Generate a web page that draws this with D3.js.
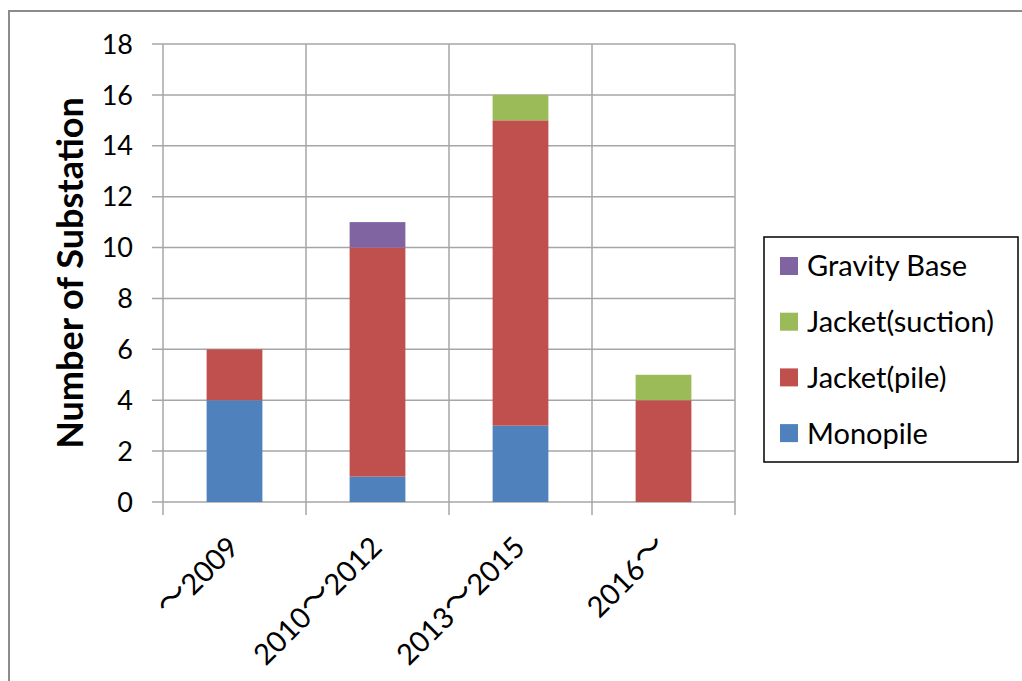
<!DOCTYPE html>
<html><head><meta charset="utf-8">
<script src="https://cdn.jsdelivr.net/npm/d3@7"></script>
<style>body{margin:0;background:#fff}svg{display:block}</style>
</head><body>
<svg id="c" width="1022" height="681"></svg>
<script>
const categories = ["～2009", "2010～2012", "2013～2015", "2016～"];
const seriesNames = ["Monopile", "Jacket(pile)", "Jacket(suction)", "Gravity Base"];
const monopile = [4, 1, 3, 0];
const jacketPile = [2, 9, 12, 4];
const jacketSuction = [0, 0, 1, 1];
const gravityBase = [0, 1, 0, 0];
const yTicks = [0, 2, 4, 6, 8, 10, 12, 14, 16, 18];
const colors = ["#4F81BD", "#C0504D", "#9BBB59", "#8064A2"];

const svg = d3.select("#c");
const font = "Lato, 'Noto Sans CJK JP', sans-serif";
const cjk = "'Noto Sans CJK JP', sans-serif";
const pL = 163, pR = 735, pT = 44, pB = 502;

svg.append("rect").attr("x", 9).attr("y", 11).attr("width", 1030).attr("height", 700)
  .attr("fill", "#fff").attr("stroke", "#8c8c8c").attr("stroke-width", 2);

const x = d3.scaleBand().domain(categories).range([pL, pR]).paddingInner(0.61).paddingOuter(0.305);
const xb = d3.scaleBand().domain(categories).range([pL, pR]);
const y = d3.scaleLinear().domain([0, 18]).range([pB, pT]);

const grid = "#a6a6a6";
svg.append("g").selectAll("line").data(yTicks).join("line")
  .attr("x1", pL - 11).attr("x2", pR).attr("y1", d => y(d)).attr("y2", d => y(d))
  .attr("stroke", grid).attr("stroke-width", 1.5);
const bounds = categories.map(c => xb(c)).concat([pR]);
svg.append("g").selectAll("line").data(bounds).join("line")
  .attr("x1", d => d).attr("x2", d => d).attr("y1", pT).attr("y2", pB + 13)
  .attr("stroke", grid).attr("stroke-width", 1.5);

const table = categories.map((c, i) => ({cat: c, "Monopile": monopile[i], "Jacket(pile)": jacketPile[i], "Jacket(suction)": jacketSuction[i], "Gravity Base": gravityBase[i]}));
const stacked = d3.stack().keys(seriesNames)(table);
svg.append("g").selectAll("g").data(stacked).join("g").attr("fill", (d, i) => colors[i])
  .selectAll("rect").data(d => d).join("rect")
  .attr("x", d => x(d.data.cat)).attr("width", x.bandwidth())
  .attr("y", d => y(d[1])).attr("height", d => y(d[0]) - y(d[1]));

svg.append("g").selectAll("text").data(yTicks).join("text")
  .attr("x", 133).attr("y", d => y(d)).attr("dy", "0.36em").attr("text-anchor", "end")
  .attr("font-family", font).attr("font-size", 27).attr("fill", "#000").text(d => d);

const xl = svg.append("g").selectAll("text").data(categories).join("text")
  .attr("transform", c => `translate(${xb(c) + xb.bandwidth() / 2 - 1},${pB + 40}) rotate(-45)`)
  .attr("text-anchor", "end")
  .attr("font-family", font).attr("font-size", 29).attr("fill", "#000");
xl.each(function(c) {
  const t = d3.select(this);
  let shifted = false;
  c.split(/(～)/).filter(s => s.length).forEach((s, k) => {
    const sp = t.append("tspan").text(s);
    if (s === "～") {
      sp.attr("font-family", cjk).attr("font-size", 32).attr("dy", k === 0 ? 7 : -3);
      shifted = true;
    } else {
      sp.attr("dy", k === 0 ? 10 : 3);
    }
  });
});

svg.append("text").attr("transform", `translate(70,${(pT + pB) / 2}) rotate(-90)`)
  .attr("text-anchor", "middle").attr("dy", "0.35em")
  .attr("font-family", font).attr("font-weight", "bold").attr("font-size", 36).attr("fill", "#000")
  .text("Number of Substation");

const lg = svg.append("g");
lg.append("rect").attr("x", 764).attr("y", 237).attr("width", 254).attr("height", 225)
  .attr("fill", "#fff").attr("stroke", "#000").attr("stroke-width", 1.5);
const legendOrder = [3, 2, 1, 0];
const rows = lg.selectAll("g").data(legendOrder).join("g")
  .attr("transform", (d, i) => `translate(780,${266 + i * 55.7})`);
rows.append("rect").attr("x", 0).attr("y", -9).attr("width", 18).attr("height", 18).attr("fill", d => colors[d]);
rows.append("text").attr("x", 27).attr("y", 0).attr("dy", "0.36em")
  .attr("font-family", font).attr("font-size", 29).attr("fill", "#000").text(d => seriesNames[d]);
</script>
</body></html>
